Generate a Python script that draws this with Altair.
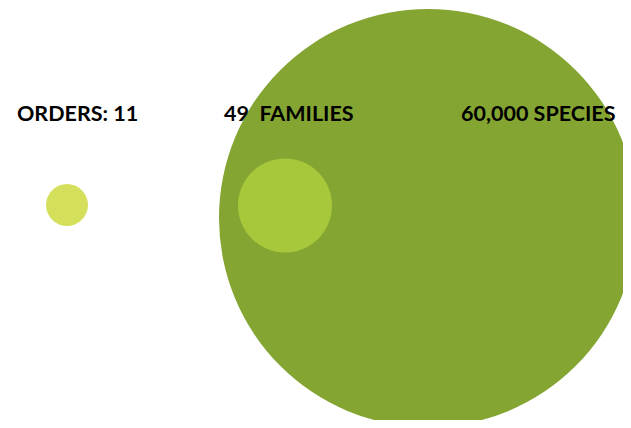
import altair as alt
import pandas as pd

# circles (drawn largest first)
circle_names = ["Species", "Families", "Orders"]
circle_x = [428, 285, 67]
circle_y = [218, 205.5, 205]
circle_r = [209, 47, 21]
circle_colors = ["#84A532", "#A6C83A", "#D4E05C"]

# labels
labels = ["ORDERS: 11", "49\u00a0 FAMILIES", "60,000 SPECIES"]
label_x = [17, 224, 461]
label_y = [121, 120.5, 120.5]

W, H = 615, 412

circles = pd.DataFrame({
    "name": circle_names,
    "x": circle_x,
    "y": circle_y,
    # Vega symbol size is the area of the bounding square: (2r)^2
    "area": [(2 * r) ** 2 for r in circle_r],
    "color": circle_colors,
    "order": [0, 1, 2],
})
texts = pd.DataFrame({"label": labels, "x": label_x, "y": label_y})

xs = alt.Scale(domain=[8, 8 + W], range=[0, W])
ys = alt.Scale(domain=[8 + H, 8], range=[H, 0])

c = alt.Chart(circles).mark_circle(opacity=1, strokeWidth=0).encode(
    x=alt.X("x:Q", scale=xs, axis=None),
    y=alt.Y("y:Q", scale=ys, axis=None),
    size=alt.Size("area:Q", scale=None, legend=None),
    color=alt.Color("color:N", scale=None, legend=None),
    order=alt.Order("order:Q"),
)

t = alt.Chart(texts).mark_text(
    align="left", baseline="alphabetic", font="Lato", fontWeight="bold",
    fontSize=21.5, color="#000000"
).encode(
    x=alt.X("x:Q", scale=xs, axis=None),
    y=alt.Y("y:Q", scale=ys, axis=None),
    text="label:N",
)

chart = alt.layer(c, t).properties(
    width=W, height=H, padding=0, autosize=alt.AutoSizeParams(type="none")
).configure_view(stroke=None)

chart.save("out.html", embed_options={"renderer": "svg", "actions": False})
